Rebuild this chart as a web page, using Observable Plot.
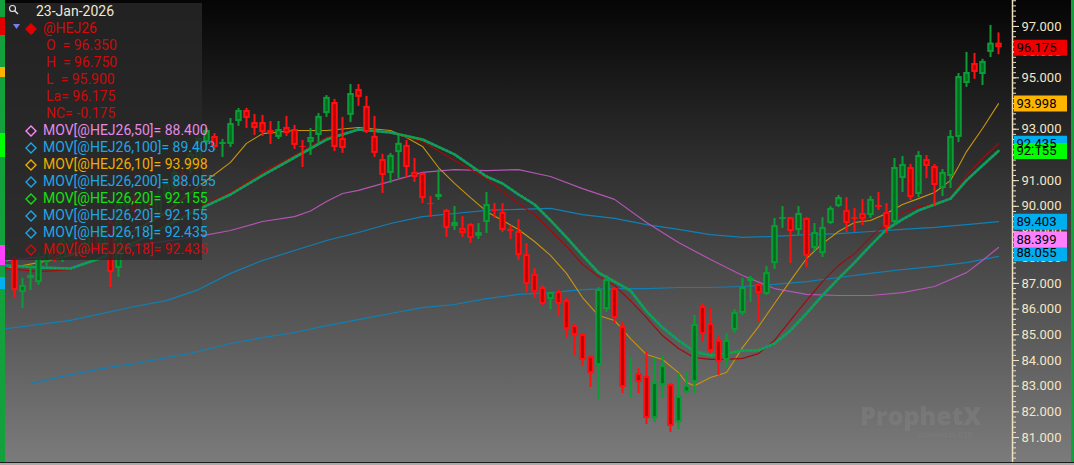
<!DOCTYPE html>
<html><head><meta charset="utf-8">
<script src="https://cdn.jsdelivr.net/npm/d3@7"></script>
<script src="https://cdn.jsdelivr.net/npm/@observablehq/plot@0.6"></script>
<style>
html,body{margin:0;padding:0;background:#000;}
#wrap{position:relative;width:1074px;height:465px;overflow:hidden;
  background:linear-gradient(to bottom,#050505 0px,#7b7b7b 462px,#a9a9a9 462px);
  font-family:Roboto,"Noto Sans",sans-serif;}
#chart{position:absolute;left:0;top:0;}
#chart svg{overflow:visible}
.edge{position:absolute;}
#legend{position:absolute;left:5px;top:3px;width:197px;height:257px;background:rgba(40,40,40,0.82);}
#legend .row{position:absolute;left:0;height:17px;line-height:17px;font-size:14px;white-space:nowrap;}
#wm{position:absolute;left:860px;top:398px;font-family:"Open Sans",sans-serif;font-weight:800;font-size:25px;color:rgba(255,255,255,0.08);}
#wm2{position:absolute;left:918px;top:430px;font-family:"Open Sans",sans-serif;font-size:7px;color:rgba(255,255,255,0.08);}
</style></head>
<body>
<div id="wrap">
  <div id="chart"></div>
  <div id="wm">ProphetX</div>
  <div id="wm2">powered by DTN</div>
  <div id="legend"></div>
  <div class="edge" style="left:0;top:0;width:5px;height:462px;background:#13a03d"></div>
  <div class="edge" style="left:0;top:17px;width:5px;height:18px;background:#e00000"></div>
  <div class="edge" style="left:0;top:67px;width:5px;height:10px;background:#ffb400"></div>
  <div class="edge" style="left:0;top:133px;width:5px;height:24px;background:#00ff00"></div>
  <div class="edge" style="left:0;top:245px;width:5px;height:20px;background:#ff40ff"></div>
  <div class="edge" style="left:0;top:277px;width:5px;height:12px;background:#00b0f0"></div>
  <div class="edge" style="left:1071px;top:0;width:3px;height:462px;background:#13a03d"></div>
  <div class="edge" style="left:0;top:462px;width:1074px;height:1px;background:#1c1c1c"></div>
</div>
<script>
// ---- Candle data (@HEJ26 daily) ----
const opens = [88.01,87.97,86.64,87.19,87.03,87.81,88.28,87.97,88.59,88.90,
 88.44,88.83,88.28,89.37,87.58,89.99,90.30,89.76,90.15,89.68,
 90.38,90.69,91.24,91.39,91.78,92.48,92.72,92.41,92.41,93.30,
 93.73,93.26,93.26,92.95,92.68,93.07,92.99,92.33,92.48,92.76,
 93.61,94.04,92.64,93.54,94.55,93.89,92.72,91.82,91.28,92.09,
 92.37,91.32,91.28,90.11,90.34,89.84,89.21,89.14,89.29,88.83,
 89.37,89.88,89.76,89.10,89.02,88.12,87.35,86.84,86.37,86.68,
 86.33,85.36,85.01,84.15,83.80,85.98,86.80,85.32,83.14,83.49,
 83.38,81.74,83.02,83.06,81.58,82.75,83.14,86.10,85.44,84.78,
 84.00,85.17,85.83,87.07,86.96,86.57,87.77,89.49,89.56,89.06,
 89.53,88.36,88.16,89.33,89.99,89.84,89.56,89.72,89.64,90.03,
 89.76,89.37,91.08,91.51,90.46,91.82,91.55,90.69,91.16,92.68,
 94.78,95.56,95.13,95.99,96.35];
const highs = [88.51,88.05,87.19,87.70,88.20,88.51,88.44,88.83,89.14,89.06,
 88.98,88.94,89.29,89.53,90.30,90.62,90.46,90.38,90.30,90.62,
 91.08,91.47,91.39,92.17,92.80,93.03,92.83,92.60,93.42,93.81,
 93.81,93.57,93.54,93.30,93.30,93.50,93.15,92.56,93.03,93.61,
 94.31,94.16,93.46,94.74,94.74,94.28,93.50,92.02,92.06,92.76,
 92.56,91.86,91.30,90.38,91.43,89.88,89.99,89.60,89.33,89.33,
 90.54,90.11,90.11,89.25,89.49,88.55,87.58,86.92,86.66,86.72,
 86.41,85.44,85.05,84.19,86.84,87.31,86.84,85.48,84.08,83.69,
 84.31,84.08,84.19,83.10,83.49,83.53,85.75,86.22,86.02,84.93,
 85.05,85.98,87.19,87.27,87.00,87.66,89.53,89.99,89.56,89.99,
 89.56,89.33,89.56,89.99,90.42,90.34,89.92,90.27,90.38,90.54,
 90.11,91.86,91.94,91.63,92.13,91.98,91.63,91.43,92.95,95.17,
 95.99,95.95,95.72,97.04,96.75];
const lows = [87.81,86.45,86.02,86.72,86.92,87.66,87.81,87.81,88.44,88.28,
 88.28,88.20,88.12,86.84,87.23,89.76,89.53,89.60,89.45,89.53,
 90.23,90.54,90.62,91.24,91.71,92.37,92.17,91.90,92.29,93.11,
 93.03,92.76,92.72,92.41,92.60,92.72,92.21,91.51,91.98,92.45,
 93.46,92.13,92.06,93.26,93.89,92.83,91.90,90.50,90.89,91.08,
 91.08,90.93,90.11,89.56,90.23,88.79,89.06,88.79,88.55,88.71,
 88.94,89.53,88.98,88.71,87.89,86.64,86.41,86.14,85.98,85.71,
 84.89,84.19,83.80,82.95,82.48,85.87,85.44,82.71,82.56,82.71,
 81.51,81.58,82.52,81.20,81.31,82.71,82.71,84.70,84.27,83.41,
 83.69,85.05,85.75,86.26,85.52,86.53,87.54,89.14,87.77,88.86,
 87.62,88.24,88.01,89.29,89.95,88.98,88.98,89.25,89.53,89.84,
 88.94,89.29,90.54,90.23,90.34,91.08,90.03,90.38,90.69,92.48,
 94.63,94.94,94.70,95.79,95.90];
const closes = [88.36,86.72,86.92,87.31,87.97,88.36,87.97,88.67,88.98,88.44,
 88.83,88.36,89.14,87.42,90.07,90.38,89.76,90.23,89.68,90.46,
 90.85,91.32,90.77,92.02,92.64,92.95,92.29,92.48,93.22,93.73,
 93.42,93.03,92.87,92.80,92.99,92.83,92.37,92.29,92.68,93.50,
 94.24,92.29,92.25,94.39,94.24,92.87,92.06,91.20,91.98,92.45,
 91.51,91.12,90.30,90.07,90.46,89.14,89.37,88.94,88.75,88.98,
 90.07,89.80,89.06,89.02,88.09,86.96,86.64,86.18,86.64,86.18,
 85.20,84.97,84.00,83.49,86.76,87.15,85.63,82.95,83.18,83.14,
 81.74,83.14,83.80,81.43,82.60,83.02,85.40,85.01,84.35,83.92,
 84.78,85.87,86.84,87.19,86.61,87.42,89.25,89.56,89.02,89.72,
 88.05,88.98,89.18,89.92,90.34,89.33,89.49,89.49,90.27,89.95,
 89.18,91.51,91.63,90.34,91.98,91.55,90.81,91.32,92.72,95.05,
 95.21,95.21,95.64,96.35,96.175];

// ---- Moving averages: [bar, value] ----
const ma10 = [[0,87.58],[4,87.81],[8,88.09],[12,88.47],[16,89.06],[20,89.76],[24,90.77],[28,91.71],[30,92.45],[32,92.83],[36,92.95],[40,92.95],[44,93.07],[48,92.95],[50,92.68],[52,92.33],[54,91.51],[56,90.89],[58,90.34],[60,89.80],[62,89.45],[64,89.10],[66,88.63],[68,88.09],[70,87.39],[72,86.45],[74,85.75],[76,85.56],[78,84.85],[80,84.23],[82,84.04],[84,83.53],[85,83.14],[86,83.02],[88,83.34],[90,83.53],[92,84.50],[94,85.32],[96,86.22],[98,87.11],[100,87.97],[102,88.55],[104,89.02],[106,89.37],[108,89.45],[110,89.72],[112,90.07],[114,90.30],[116,90.54],[118,91.01],[119,91.55],[120,92.13],[122,93.03],[124,93.998]];
const ma18 = [[0,87.58],[4,87.46],[8,87.54],[12,88.01],[16,88.63],[20,89.37],[24,89.99],[28,90.54],[32,91.32],[36,91.98],[40,92.68],[44,92.99],[48,92.87],[52,92.52],[56,91.78],[60,91.08],[62,90.58],[64,90.11],[66,89.68],[68,89.06],[70,88.44],[72,87.74],[74,87.27],[76,86.92],[78,86.33],[80,85.67],[82,84.97],[84,84.47],[86,84.11],[88,84.04],[90,84.04],[92,84.08],[94,84.27],[96,84.78],[98,85.56],[100,86.33],[102,87.07],[104,87.70],[106,88.16],[108,88.79],[110,89.37],[112,89.76],[114,89.99],[116,90.11],[118,90.34],[120,91.20],[122,91.86],[124,92.435]];
const ma20 = [[0,87.70],[4,87.62],[8,87.58],[12,88.01],[16,88.59],[20,89.25],[24,89.88],[28,90.46],[32,91.20],[36,91.90],[40,92.60],[44,92.99],[48,92.87],[52,92.60],[56,92.02],[60,91.16],[62,90.89],[64,90.46],[66,90.07],[68,89.45],[70,88.79],[72,88.09],[74,87.42],[76,87.07],[78,86.72],[80,85.91],[82,85.28],[84,84.78],[86,84.35],[88,84.19],[90,84.27],[92,84.39],[94,84.39],[96,84.66],[98,85.17],[100,85.83],[102,86.53],[104,87.19],[106,87.81],[108,88.47],[110,89.10],[112,89.49],[114,89.84],[116,90.07],[118,90.30],[120,91.01],[122,91.59],[124,92.155]];
const ma50 = [[0,87.89],[8,88.16],[16,88.47],[24,88.83],[28,89.06],[32,89.41],[36,89.60],[38,89.82],[40,90.19],[42,90.50],[44,90.62],[48,90.97],[52,91.32],[56,91.43],[60,91.39],[64,91.43],[68,91.16],[72,90.69],[76,90.27],[80,89.37],[84,88.59],[88,87.93],[92,87.31],[96,86.80],[100,86.57],[104,86.53],[108,86.53],[112,86.64],[116,86.88],[120,87.42],[122,87.89],[124,88.40]];
const ma100 = [[0,85.24],[8,85.56],[16,86.10],[20,86.33],[24,86.76],[28,87.39],[32,87.89],[36,88.28],[40,88.67],[44,88.98],[48,89.33],[52,89.60],[56,89.72],[60,89.84],[64,89.88],[68,89.92],[72,89.68],[76,89.53],[80,89.29],[84,89.10],[88,88.90],[92,88.79],[96,88.83],[100,88.90],[104,88.94],[108,89.02],[112,89.10],[116,89.18],[120,89.29],[124,89.403]];
const ma200 = [[3,83.10],[8,83.45],[12,83.69],[16,83.88],[20,84.11],[24,84.35],[28,84.66],[32,84.89],[36,85.09],[40,85.36],[44,85.59],[48,85.83],[52,86.06],[56,86.18],[60,86.41],[64,86.57],[68,86.64],[72,86.76],[76,86.80],[80,86.80],[84,86.84],[88,86.84],[92,86.88],[96,86.96],[100,87.07],[104,87.23],[108,87.39],[112,87.54],[116,87.66],[120,87.81],[124,88.055]];

// ---- Axis ticks and price tags ----
const majorTicks = [81,82,83,84,85,86,87,88,89,90,91,92,93,94,95,96,97];
const tags = [
  {label:"96.175", value:96.175, color:"#ee0000"},
  {label:"93.998", value:93.998, color:"#ffb400"},
  {label:"92.435", value:92.435, color:"#00aeef"},
  {label:"92.155", value:92.155, color:"#00ff00"},
  {label:"89.403", value:89.403, color:"#00aeef"}
];
const tagsShiftA = [{label:"88.055", value:88.055, color:"#00aeef"}];
const tagsShiftB = [{label:"88.399", value:88.399, color:"#ff80ff"}];

// ---- Legend ----
const dateLabel = "23-Jan-2026";
const symbol = "@HEJ26";
const legendMA = [
  {period:50, value:88.400, color:"#e589e5", mark:"#ff88ff"},
  {period:100, value:89.403, color:"#1fa6e6", mark:"#1fa6e6"},
  {period:10, value:93.998, color:"#f0ac00", mark:"#f0ac00"},
  {period:200, value:88.055, color:"#1fa6e6", mark:"#1fa6e6"},
  {period:20, value:92.155, color:"#12e012", mark:"#12e012"},
  {period:20, value:92.155, color:"#1fa6e6", mark:"#1fa6e6"},
  {period:18, value:92.435, color:"#1fa6e6", mark:"#1fa6e6"},
  {period:18, value:92.435, color:"#d40a0a", mark:"#d40a0a"}
];

// ---- Build ----
const candles = closes.map((c, i) => ({i, open: opens[i], high: highs[i], low: lows[i], close: c, up: c >= opens[i]}));
const pts = (arr) => arr.map(([i, v]) => ({i, v}));
const UP_OUT = "#0c9c36", UP_IN = "#006a1f", DN_OUT = "#ff1010", DN_IN = "#b80000";
const axisCol = "#ecdfbf";

const chart = Plot.plot({
  width: 1074, height: 465,
  marginLeft: 0, marginRight: 62, marginTop: 0, marginBottom: 3,
  x: {domain: [-0.75, 125.75], axis: null},
  y: {domain: [80.03, 98.01], axis: null},
  color: {type: "identity"},
  style: {background: "transparent", fontFamily: "Roboto", fontSize: "13px"},
  marks: [
    Plot.axisY({anchor: "right", ticks: d3.range(80.2, 98.01, 0.2), tickSize: 3, tickFormat: () => "", color: axisCol}),
    Plot.axisY({anchor: "right", ticks: majorTicks, tickSize: 6, tickPadding: 3, tickFormat: d => d.toFixed(3), color: "#f2e6c6", fontSize: 13}),
    Plot.frame({anchor: "right", stroke: axisCol, strokeWidth: 1.5}),
    Plot.line(pts(ma200), {x: "i", y: "v", stroke: "#0e80b6", strokeWidth: 1.2}),
    Plot.line(pts(ma100), {x: "i", y: "v", stroke: "#0e80b6", strokeWidth: 1.2}),
    Plot.line(pts(ma50), {x: "i", y: "v", stroke: "#b455b4", strokeWidth: 1.2}),
    Plot.line(pts(ma10), {x: "i", y: "v", stroke: "#c8950c", strokeWidth: 1.1}),
    Plot.line(pts(ma18), {x: "i", y: "v", stroke: "#a30b0b", strokeWidth: 1.2}),
    Plot.line(pts(ma20), {x: "i", y: "v", stroke: "#10a040", strokeWidth: 2.6}),
    Plot.line(pts(ma20), {x: "i", y: "v", stroke: "#1592b5", strokeWidth: 2.6, strokeDasharray: "1 3", strokeLinecap: "butt"}),
    Plot.ruleX(candles, {x: "i", y1: "high", y2: "low", stroke: d => d.up ? UP_OUT : DN_OUT, strokeWidth: 2}),
    Plot.ruleX(candles, {x: "i", y1: d => Math.max(d.open, d.close), y2: d => Math.min(d.open, d.close), stroke: d => d.up ? UP_OUT : DN_OUT, strokeWidth: 6.5}),
    Plot.ruleX(candles.filter(d => Math.abs(d.open - d.close) > 0.16), {x: "i", y1: d => Math.max(d.open, d.close), y2: d => Math.min(d.open, d.close), stroke: d => d.up ? UP_IN : DN_IN, strokeWidth: 2.5, insetTop: 2, insetBottom: 2}),
    Plot.ruleY(tags, {y: "value", stroke: "color", strokeWidth: 16, insetLeft: 1014, insetRight: -55}),
    Plot.text(tags, {y: "value", text: "label", frameAnchor: "right", textAnchor: "start", dx: 4, fill: "#000", fontSize: 13}),
    Plot.ruleY(tagsShiftA, {y: "value", stroke: "color", strokeWidth: 16, insetLeft: 1014, insetRight: -55, dy: -3}),
    Plot.text(tagsShiftA, {y: "value", text: "label", frameAnchor: "right", textAnchor: "start", dx: 4, dy: -3, fill: "#000", fontSize: 13}),
    Plot.ruleY(tagsShiftB, {y: "value", stroke: "color", strokeWidth: 16, insetLeft: 1014, insetRight: -55, dy: -8}),
    Plot.text(tagsShiftB, {y: "value", text: "label", frameAnchor: "right", textAnchor: "start", dx: 4, dy: -8, fill: "#000", fontSize: 13})
  ]
});
document.getElementById("chart").appendChild(chart);

// Legend panel
const lg = document.getElementById("legend");
const last = closes.length - 1;
const rowTop = (r) => r * 17;
function addRow(r, left, html, color) {
  const d = document.createElement("div");
  d.className = "row";
  d.style.top = rowTop(r) + "px";
  d.style.left = left + "px";
  d.style.color = color;
  d.innerHTML = html;
  lg.appendChild(d);
}
function diamond(r, color, filled) {
  const s = document.createElementNS("http://www.w3.org/2000/svg", "svg");
  s.setAttribute("width", 12); s.setAttribute("height", 12);
  s.style.position = "absolute"; s.style.left = "19.5px"; s.style.top = (rowTop(r) + 3) + "px";
  s.innerHTML = `<path d="M6 1 L11 6 L6 11 L1 6 Z" fill="${filled ? color : "none"}" stroke="${color}" stroke-width="1.4"/>`;
  lg.appendChild(s);
}
{
  const s = document.createElementNS("http://www.w3.org/2000/svg", "svg");
  s.setAttribute("width", 12); s.setAttribute("height", 12);
  s.style.position = "absolute"; s.style.left = "3px"; s.style.top = "1px";
  s.innerHTML = `<circle cx="4.5" cy="4.5" r="3" fill="none" stroke="#e6e6e6" stroke-width="1.1"/><line x1="6.7" y1="6.7" x2="10" y2="10" stroke="#e6e6e6" stroke-width="1.3"/>`;
  lg.appendChild(s);
  const t = document.createElementNS("http://www.w3.org/2000/svg", "svg");
  t.setAttribute("width", 8); t.setAttribute("height", 6);
  t.style.position = "absolute"; t.style.left = "8px"; t.style.top = "21px";
  t.innerHTML = `<path d="M0 0 L7 0 L3.5 5 Z" fill="#7b7bf2"/>`;
  lg.appendChild(t);
}
addRow(0, 31, dateLabel, "#efe7d6");
diamond(1, "#e00000", true);
addRow(1, 38, symbol, "#d40a0a");
const ohlc = [
  "O&nbsp;&nbsp;= " + opens[last].toFixed(3),
  "H&nbsp;&nbsp;= " + highs[last].toFixed(3),
  "L&nbsp;&nbsp;= " + lows[last].toFixed(3),
  "La= " + closes[last].toFixed(3),
  "NC= " + (closes[last] - closes[last - 1]).toFixed(3)
];
ohlc.forEach((t, k) => addRow(2 + k, 41, t, "#cc0a0a"));
legendMA.forEach((m, k) => {
  diamond(7 + k, m.mark, false);
  addRow(7 + k, 38, `MOV[${symbol},${m.period}]= ${m.value.toFixed(3)}`, m.color);
});
</script>
</body></html>
